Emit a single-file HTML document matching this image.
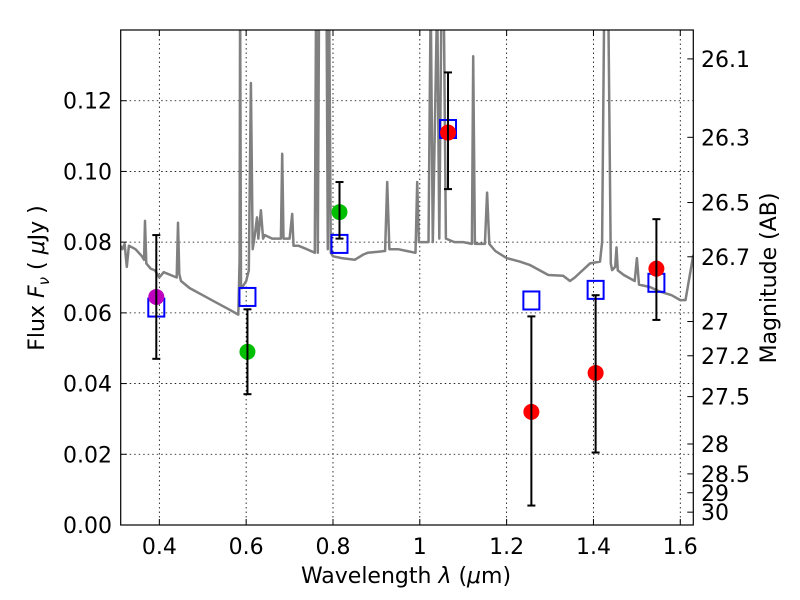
<!DOCTYPE html>
<html><head><meta charset="utf-8"><style>
body{margin:0;background:#fff}
svg{display:block;font-family:"DejaVu Sans","Liberation Sans",sans-serif}
</style></head><body>
<svg id="chart" width="800" height="600" viewBox="0 0 800 600" xmlns="http://www.w3.org/2000/svg">
<rect width="800" height="600" fill="#fff"/>
<g id="grid"></g>
<g id="spec"></g>
<g id="marks"></g>
<rect x="120.7" y="30" width="572.6" height="495" fill="none" stroke="#000" stroke-width="1.2"/>
<g id="axes"></g>
<text x="406" y="583" font-size="22" text-anchor="middle">Wavelength  <tspan font-style="italic">λ</tspan> (<tspan font-style="italic">μ</tspan>m)</text>
<text transform="translate(44,278) rotate(-90)" font-size="22" text-anchor="middle">Flux  <tspan font-style="italic">F</tspan><tspan font-style="italic" font-size="15" dy="5">ν</tspan><tspan dy="-5">  ( </tspan><tspan font-style="italic">μ</tspan>Jy )</text>
<text transform="translate(776,278) rotate(-90)" font-size="22" text-anchor="middle">Magnitude (AB)</text>
</svg>
<script>
const specWave=[0.31,0.315,0.32,0.325,0.33,0.345,0.36,0.365,0.367,0.37,0.38,0.39,0.40,0.41,0.44,0.443,0.446,0.45,0.47,0.50,0.53,0.56,0.582,0.585,0.586,0.588,0.59,0.60,0.606,0.611,0.615,0.62,0.625,0.628,0.634,0.639,0.643,0.66,0.68,0.683,0.686,0.70,0.706,0.709,0.72,0.74,0.758,0.761,0.765,0.768,0.775,0.785,0.788,0.791,0.795,0.80,0.82,0.85,0.87,0.88,0.92,0.925,0.93,0.95,0.97,0.99,0.994,0.998,1.0,1.02,1.025,1.03,1.04,1.045,1.05,1.055,1.06,1.08,1.1,1.12,1.123,1.127,1.15,1.155,1.16,1.174,1.20,1.23,1.254,1.296,1.33,1.346,1.357,1.392,1.415,1.42,1.425,1.434,1.44,1.443,1.45,1.453,1.456,1.47,1.495,1.50,1.505,1.53,1.553,1.58,1.60,1.612,1.63];
const specFlux=[0.079,0.078,0.0795,0.073,0.079,0.078,0.076,0.075,0.086,0.074,0.0725,0.072,0.070,0.0715,0.070,0.0855,0.071,0.069,0.067,0.065,0.063,0.061,0.0595,0.075,0.15,0.068,0.067,0.069,0.072,0.125,0.078,0.082,0.087,0.081,0.089,0.081,0.082,0.081,0.081,0.105,0.081,0.081,0.088,0.079,0.079,0.078,0.077,0.15,0.077,0.15,0.15,0.15,0.078,0.15,0.077,0.076,0.0755,0.075,0.0765,0.077,0.0775,0.097,0.078,0.078,0.0775,0.077,0.097,0.080,0.080,0.080,0.15,0.080,0.15,0.081,0.15,0.15,0.081,0.080,0.080,0.0795,0.1326,0.0795,0.0795,0.094,0.0795,0.0775,0.0755,0.0745,0.0735,0.0707,0.0705,0.069,0.070,0.074,0.0745,0.080,0.15,0.15,0.074,0.0721,0.073,0.0785,0.072,0.0707,0.069,0.0755,0.068,0.0673,0.066,0.065,0.0636,0.0636,0.0764];
const bandWave=[0.393,0.603,0.815,1.065,1.257,1.405,1.545];
const modelFlux=[0.0615,0.0645,0.0795,0.112,0.0635,0.0665,0.0685];
const obsFlux=[0.0645,0.049,0.0885,0.111,0.032,0.043,0.0725];
const obsLow=[0.047,0.037,0.081,0.095,0.0055,0.0205,0.058];
const obsHigh=[0.082,0.061,0.097,0.128,0.059,0.065,0.0865];
const obsColor=["#bf00bf","#00bf00","#00bf00","#ff0000","#ff0000","#ff0000","#ff0000"];
const xTicks=[0.4,0.6,0.8,1.0,1.2,1.4,1.6];
const xTickLabels=["0.4","0.6","0.8","1","1.2","1.4","1.6"];
const yTicks=[0,0.02,0.04,0.06,0.08,0.10,0.12];
const yTickLabels=["0.00","0.02","0.04","0.06","0.08","0.10","0.12"];
const magTicks=[26.1,26.3,26.5,26.7,27,27.2,27.5,28,28.5,29,30];
const magTickLabels=["26.1","26.3","26.5","26.7","27","27.2","27.5","28","28.5","29","30"];

const X0=120.7,X1=693.3,Y0=525,Y1=30,XMIN=0.311,XMAX=1.630,YMIN=0,YMAX=0.14;
const sx=v=>X0+(v-XMIN)/(XMAX-XMIN)*(X1-X0);
const sy=v=>Y0-(v-YMIN)/(YMAX-YMIN)*(Y0-Y1);
const NS="http://www.w3.org/2000/svg";
function mk(parent,tag,attrs){const e=document.createElementNS(NS,tag);for(const k in attrs)e.setAttribute(k,attrs[k]);parent.appendChild(e);return e;}
const grid=document.getElementById('grid'),axes=document.getElementById('axes'),spec=document.getElementById('spec'),marks=document.getElementById('marks');

xTicks.forEach((t,i)=>{const x=sx(t);
 let g=mk(grid,'line',{x1:x,x2:x,y1:Y1,y2:Y0,stroke:'#000','stroke-width':0.8,'stroke-dasharray':'1.5,3'});
 
 mk(axes,'line',{x1:x,x2:x,y1:Y0,y2:Y0-6,stroke:'#000'});
 mk(axes,'line',{x1:x,x2:x,y1:Y1,y2:Y1+6,stroke:'#000'});
 let l=mk(axes,'text',{x:x,y:554,'font-size':22,'text-anchor':'middle'});l.textContent=xTickLabels[i];
 });
yTicks.forEach((t,i)=>{const y=sy(t);
 if(t>0){let g=mk(grid,'line',{x1:X0,x2:X1,y1:y,y2:y,stroke:'#000','stroke-width':0.8,'stroke-dasharray':'1.5,3'});
 }
 mk(axes,'line',{x1:X0,x2:X0+6,y1:y,y2:y,stroke:'#000'});
 let l=mk(axes,'text',{x:112,y:y+8,'font-size':22,'text-anchor':'end'});l.textContent=yTickLabels[i];
 });
magTicks.forEach((m,i)=>{const y=sy(Math.pow(10,(23.9-m)/2.5));
 mk(axes,'line',{x1:X1-6,x2:X1,y1:y,y2:y,stroke:'#000'});
 let l=mk(axes,'text',{x:701,y:y+8,'font-size':22,'text-anchor':'start'});l.textContent=magTickLabels[i];
 });

const cp=mk(document.getElementById('chart'),'clipPath',{id:'clip'});mk(cp,'rect',{x:X0,y:Y1,width:X1-X0,height:Y0-Y1});
spec.setAttribute('clip-path','url(#clip)');
let d=specWave.map((w,i)=>(i?'L':'M')+sx(w).toFixed(1)+','+sy(specFlux[i]).toFixed(1)).join('');
let p=mk(spec,'path',{d:d,fill:'none',stroke:'#808080','stroke-width':2.5,'stroke-linejoin':'round'});


bandWave.forEach((w,i)=>{const x=sx(w);
 let s=mk(marks,'rect',{x:x-8,y:sy(modelFlux[i])-9,width:16,height:18,fill:'none',stroke:'#0000ff','stroke-width':2});
 
 let c=mk(marks,'circle',{cx:x,cy:sy(obsFlux[i]),r:8,fill:obsColor[i]});
 
 let e=mk(marks,'g',{stroke:'#000','stroke-width':2});
 
 mk(e,'line',{x1:x,x2:x,y1:sy(obsLow[i]),y2:sy(obsHigh[i])});
 mk(e,'line',{x1:x-4,x2:x+4,y1:sy(obsLow[i]),y2:sy(obsLow[i])});
 mk(e,'line',{x1:x-4,x2:x+4,y1:sy(obsHigh[i]),y2:sy(obsHigh[i])});});
</script>
</body></html>
